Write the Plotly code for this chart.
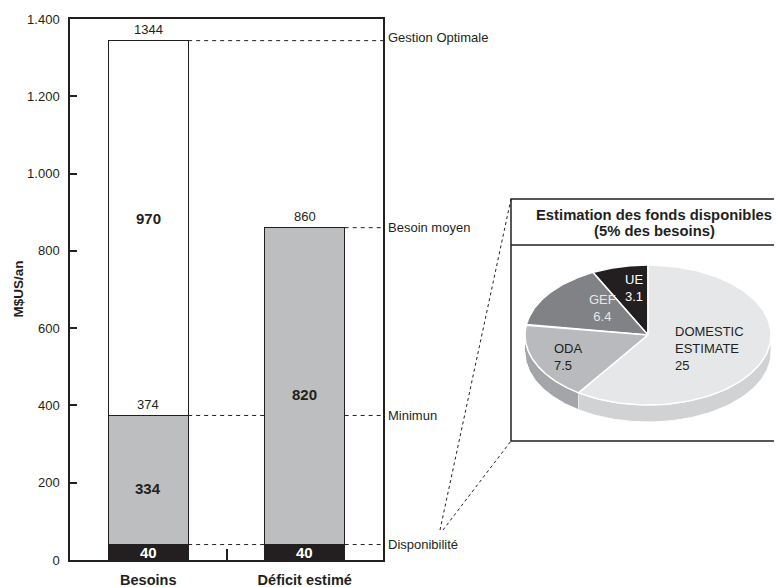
import numpy as np
import plotly.graph_objects as go

# ---------------- data ----------------
categories = ["Besoins", "Déficit estimé"]
disponible = [40, 40]          # black segment
besoin_minimum = [334, 820]    # grey segment
gestion_optimale = [970, 0]    # white segment

level_names = ["Gestion Optimale", "Besoin moyen", "Minimun", "Disponibilité"]
level_values = [1344, 860, 374, 40]
level_source = [0, 1, 0, 0]    # bar from which each level line starts

y_tick_vals = [0, 200, 400, 600, 800, 1000, 1200, 1400]
y_tick_text = ["0", "200", "400", "600", "800", "1.000", "1.200", "1.400"]

pie_labels = ["UE", "GEF", "ODA", "DOMESTIC<br>ESTIMATE"]
pie_values = [3.1, 6.4, 7.5, 25]
pie_title = "Estimation des fonds disponibles"
pie_subtitle = "(5% des besoins)"

# ---------------- style ----------------
FONT = "Liberation Sans, Arial, Helvetica, sans-serif"
INK = "#231f20"
GREY = "#bcbec0"
pie_top_colors = ["#231f20", "#808285", "#b9babd", "#e6e7e8"]
pie_side_colors = ["#111111", "#6d6e71", "#a4a5a8", "#d1d2d4"]
pie_text_colors = ["#ffffff", "#e6e7e8", INK, INK]
pie_text_anchor = ["center", "center", "left", "left"]
pie_text_pos = [(123, 153), (91, 133), (41, 84), (162, 93)]

OFF = 8                      # page body margin
W, H = 782 - OFF, 587 - OFF
ML, MT = 70 - OFF, 19 - OFF
AX_BOTTOM = 560 - OFF
MB = H - AX_BOTTOM
PW, PH = W - ML, AX_BOTTOM - MT
main_right = 383 - OFF
box_left, box_top, box_bottom = 511 - OFF, 199 - OFF, 441 - OFF
title_sep = 245 - OFF
BAR_W = 0.51

fig = go.Figure()

# (values, fill colour, text colour, label pixel nudge)
seg_series = [
    (disponible, INK, "white", [0, 0]),
    (besoin_minimum, GREY, INK, [-8, -8]),
    (gestion_optimale, "white", INK, [10, 0]),
]
annotations = []
base = np.zeros(len(categories))
for vals, col, tcol, nudge in seg_series:
    fig.add_trace(go.Bar(
        x=categories, y=vals, width=BAR_W,
        marker=dict(color=col, line=dict(color=INK, width=1)),
        hoverinfo="skip", showlegend=False,
    ))
    for i, v in enumerate(vals):
        if v:
            annotations.append(dict(x=i, y=base[i] + v / 2, xref="x", yref="y", text=f"<b>{v}</b>",
                                    showarrow=False, yanchor="middle", yshift=nudge[i],
                                    font=dict(family=FONT, size=15, color=tcol)))
    base = base + np.array(vals)

# totals above segments
cum1 = np.cumsum([disponible, besoin_minimum, gestion_optimale], axis=0)
above = [(0, cum1[1][0]), (0, cum1[2][0]), (1, cum1[1][1])]
for i, v in above:
    annotations.append(dict(x=i, y=v, xref="x", yref="y", text=str(int(v)),
                            showarrow=False, yanchor="middle", yshift=11,
                            font=dict(family=FONT, size=13, color=INK)))

bar_tops = cum1[2]
shapes = []
for name, lev, src in zip(level_names, level_values, level_source):
    cur = src + BAR_W / 2
    segs = []
    for j in range(src + 1, len(categories)):
        if bar_tops[j] >= lev:
            segs.append((cur, j - BAR_W / 2))
            cur = j + BAR_W / 2
    segs.append((cur, len(categories) - 0.5))
    for a, b in segs:
        shapes.append(dict(type="line", xref="x", yref="y", x0=a, x1=b, y0=lev, y1=lev,
                           line=dict(color=INK, width=1, dash="4px,4px")))
    annotations.append(dict(x=len(categories) - 0.5, y=lev, xref="x", yref="y", text=name,
                            showarrow=False, xanchor="left", yanchor="middle", xshift=3,
                            yshift=3 if lev == max(level_values) else 0,
                            font=dict(family=FONT, size=13, color=INK)))

# y title
annotations.append(dict(x=((18 - OFF) - ML) / PW, y=0.5, xref="paper", yref="paper", text="<b>M$US/an</b>",
                        textangle=-90, showarrow=False, xanchor="center", yanchor="middle",
                        font=dict(family=FONT, size=13.5, color=INK)))

# ---------------- pie (3D ellipse) ----------------
cx, cy, rx, ry, depth = 137, 106, 123, 70, 17
total = sum(pie_values)
angles = 90 + 360 * np.concatenate([[0], np.cumsum(pie_values)]) / total

for k in range(len(pie_values)):
    a0, a1 = max(angles[k], 180), min(angles[k + 1], 360)
    if a1 > a0:
        t = np.radians(np.linspace(a0, a1, 80))
        xs = cx + rx * np.cos(t)
        ys = cy + ry * np.sin(t)
        px = np.concatenate([xs, xs[::-1]])
        py = np.concatenate([ys, ys[::-1] - depth])
        fig.add_trace(go.Scatter(x=px, y=py, xaxis="x2", yaxis="y2", mode="lines",
                                 fill="toself", fillcolor=pie_side_colors[k],
                                 line=dict(color="white", width=1), hoverinfo="skip", showlegend=False))
for k in range(len(pie_values)):
    t = np.radians(np.linspace(angles[k], angles[k + 1], 120))
    px = np.concatenate([[cx], cx + rx * np.cos(t), [cx]])
    py = np.concatenate([[cy], cy + ry * np.sin(t), [cy]])
    fig.add_trace(go.Scatter(x=px, y=py, xaxis="x2", yaxis="y2", mode="lines",
                             fill="toself", fillcolor=pie_top_colors[k],
                             line=dict(color="white", width=1.5), hoverinfo="skip", showlegend=False))

for lab, val, (tx, ty), anc, tc in zip(pie_labels, pie_values, pie_text_pos, pie_text_anchor, pie_text_colors):
    annotations.append(dict(x=tx, y=ty, xref="x2", yref="y2", text=f"{lab}<br>{val:g}",
                            showarrow=False, xanchor=anc, align=anc, yanchor="middle",
                            font=dict(family=FONT, size=13, color=tc)))

annotations.append(dict(x=143, y=(box_bottom - (215 - OFF)), xref="x2", yref="y2",
                        text=f"<b>{pie_title}</b>", showarrow=False, xanchor="center", yanchor="middle",
                        font=dict(family=FONT, size=14.8, color=INK)))
annotations.append(dict(x=143, y=(box_bottom - (231 - OFF)), xref="x2", yref="y2",
                        text=f"<b>{pie_subtitle}</b>", showarrow=False, xanchor="center", yanchor="middle",
                        font=dict(family=FONT, size=14.8, color=INK)))

# pie box
shapes.append(dict(type="rect", xref="x2 domain", yref="y2 domain", x0=0, x1=1, y0=0, y1=1,
                   line=dict(color=INK, width=1.5)))
shapes.append(dict(type="line", xref="x2 domain", yref="y2", x0=0, x1=1,
                   y0=box_bottom - title_sep, y1=box_bottom - title_sep, line=dict(color=INK, width=1.5)))

# connector lines (paper coords, from reference pixels)
def px2paper(x, y):
    return ((x - OFF) - ML) / PW, (AX_BOTTOM - (y - OFF)) / PH

for (x0, y0), (x1, y1) in [((440, 530), (511, 199)), ((443, 530), (511, 441))]:
    a = px2paper(x0, y0)
    b = px2paper(x1, y1)
    shapes.append(dict(type="line", xref="paper", yref="paper", x0=a[0], y0=a[1], x1=b[0], y1=b[1],
                       line=dict(color=INK, width=1, dash="3px,3px")))

fig.update_layout(
    width=W, height=H, barmode="stack",
    margin=dict(l=ML, r=0, t=MT, b=MB, pad=0, autoexpand=False),
    plot_bgcolor="white", paper_bgcolor="white",
    font=dict(family=FONT, size=13, color=INK),
    separators=",.",
    xaxis=dict(domain=[0, (main_right - ML) / PW], range=[-0.5, 1.5], type="category",
               automargin=False,
               showline=True, linecolor=INK, linewidth=1.5, mirror=True,
               ticks="inside", ticklen=11, tickwidth=1.5, tickcolor=INK, tickson="boundaries",
               showgrid=False, zeroline=False, ticklabelstandoff=6,
               tickfont=dict(family=FONT, size=14.5, color=INK, weight="bold")),
    yaxis=dict(range=[0, 1400], tickvals=y_tick_vals, ticktext=y_tick_text,
               automargin=False,
               showline=True, linecolor=INK, linewidth=1.5, mirror=True,
               ticks="inside", ticklen=7, tickwidth=1.5, tickcolor=INK,
               showgrid=False, zeroline=False, ticklabelstandoff=6,
               tickfont=dict(family=FONT, size=13, color=INK)),
    xaxis2=dict(domain=[(box_left - ML) / PW, 1], range=[0, W - box_left], anchor="y2",
                visible=False, fixedrange=True, automargin=False),
    yaxis2=dict(domain=[(AX_BOTTOM - box_bottom) / PH, (AX_BOTTOM - box_top) / PH],
                range=[0, box_bottom - box_top], anchor="x2", visible=False, fixedrange=True,
                automargin=False),
    shapes=shapes, annotations=annotations,
)

fig.write_html("out.html")
